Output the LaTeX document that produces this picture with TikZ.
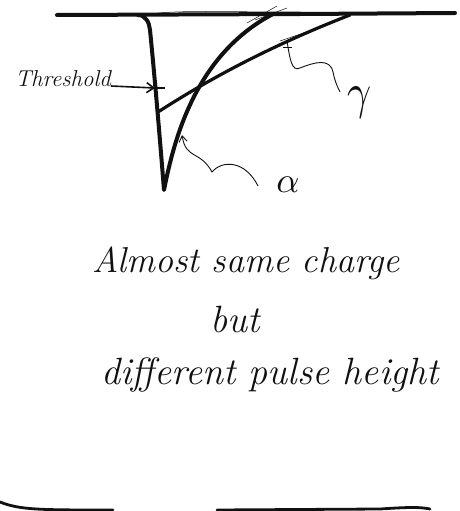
\documentclass[tikz,border=0pt]{standalone}
\usepackage{xcolor}
\usepackage{amsmath}
\usepackage{tikz}
\usetikzlibrary{arrows.meta,positioning,calc}
\definecolor{ink}{HTML}{111111}

\tikzset{
  pulse/.style={draw=ink,line width=4pt,line join=round,line cap=round},
  sketch/.style={draw=ink,line width=0.5pt,line cap=round},
  leader/.style={draw=ink,line width=0.9pt},
  hand/.style={font=\fontsize{36}{40}\selectfont\itshape,color=ink,inner sep=0pt},
  greek/.style={color=ink,inner sep=0pt}
}

\begin{document}
\begin{tikzpicture}[x=1pt,y=-1pt]
\useasboundingbox (0,0) rectangle (460,511);

% baseline and the two pulses
\draw[pulse] (57,15) -- (300,14) -- (455,13);
\draw[sketch] (150,14) .. controls (180,10) and (220,12) .. (300,12);
\draw[pulse] (138,15) to[out=0,in=95] (150,30)
  .. controls (155,80) and (160,140) .. (164,190)
  .. controls (174,140) and (195,55) .. (273,14);
\draw[pulse,line width=3.2pt] (158,112)
  .. controls (200,85) and (260,50) .. (350,15);
\draw[sketch] (247,23) -- (277,6);
\draw[sketch] (255,20) -- (287,8);
\draw[sketch] (280,41) -- (330,24);

% threshold
\coordinate (thrpt) at (155,88);
\node[font=\fontsize{23}{23}\selectfont\itshape,color=ink,inner sep=0pt,anchor=east] (thr) at (111,79) {Threshold};
\draw[leader,line width=1.6pt,-{Straight Barb[length=7pt,width=10pt]}] (thr.east |- 0,86) -- (thrpt);
\draw[leader,line width=1.6pt] (152,88) -- (165,88);

% alpha
\coordinate (atip) at (182,135);
\node[greek] (alab) at (288,185) {\scalebox{3.6}{$\alpha$}};
\draw[leader,{Straight Barb[length=6pt,width=8pt]}-] (atip)
  .. controls (186,160) and (200,150) .. (212,172)
  .. controls (222,160) and (245,160) .. (258,186);

% gamma
\coordinate (gtip) at (287,41);
\node[greek] (glab) at (360,103) {\scalebox{4.2}[5]{$\gamma$}};
\draw[leader] (283,47) -- (292,47);
\draw[leader] (gtip)
  .. controls (290,60) and (292,72) .. (300,68)
  .. controls (315,62) and (330,58) .. (333,72)
  .. controls (335,82) and (338,88) .. (340,92);

% the note
\node[hand] (l1) at (246,263) {Almost same charge};
\node[hand,font=\fontsize{38}{42}\selectfont\itshape] (l2) at (235,320) {but};
\node[hand,font=\fontsize{38}{42}\selectfont\itshape] (l3) at (270,375) {different pulse height};

% edge at the bottom
\draw[pulse,line width=2.8pt] (0,502) .. controls (20,510) and (40,510) .. (113,510);
\draw[pulse,line width=2.8pt] (217,510) -- (380,509) .. controls (410,507) and (420,507) .. (430,509);
\end{tikzpicture}
\end{document}
